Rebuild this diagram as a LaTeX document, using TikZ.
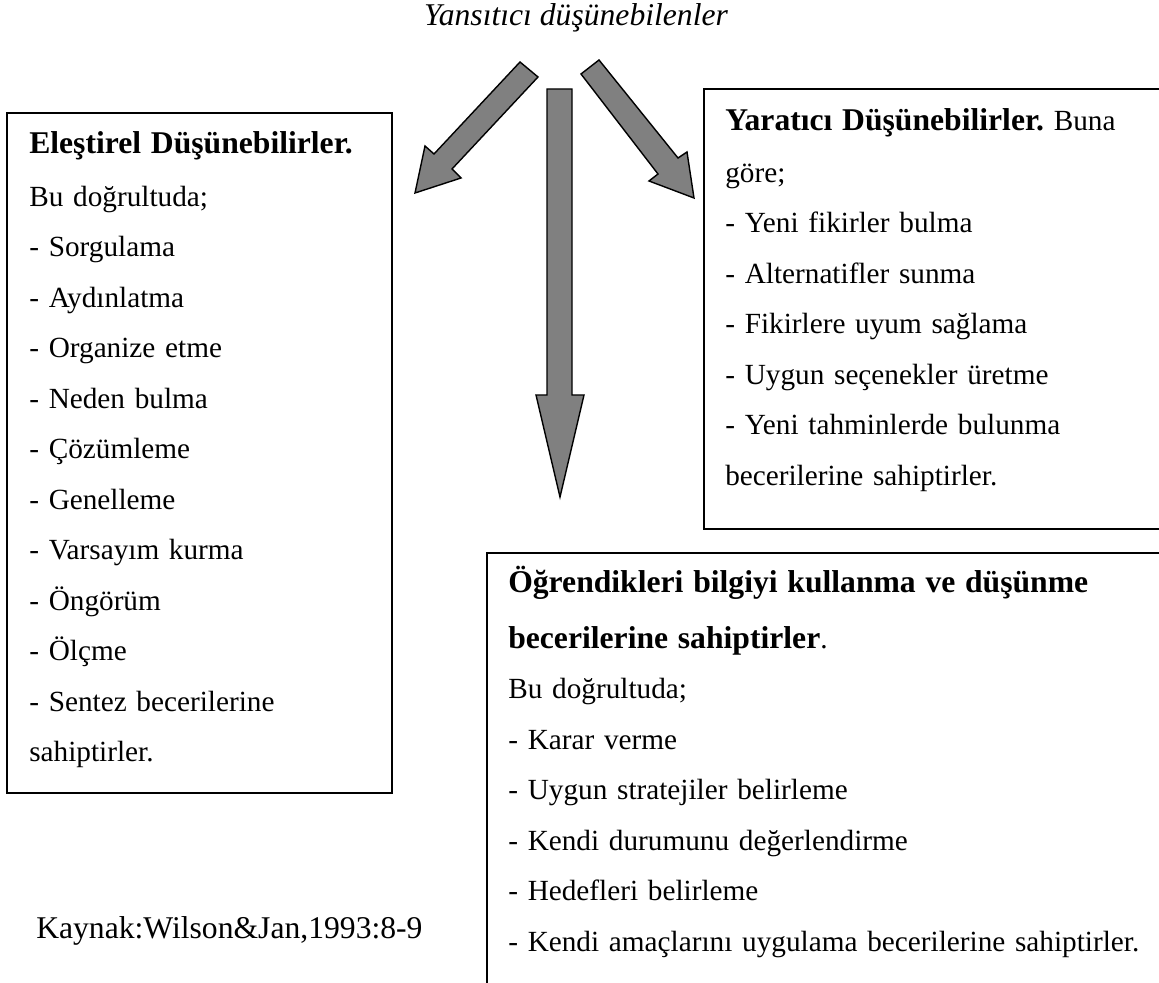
\documentclass[tikz,border=0pt]{standalone}
\usepackage{fontspec}
\setmainfont{Liberation Serif}
\usepackage{tikz}
\usetikzlibrary{positioning}
\frenchspacing
\tikzstyle{box} = [rectangle, draw=black, line width=1.2pt, outer sep=0pt, anchor=north west]
\tikzstyle{txt} = [inner sep=0pt, text width=16.5cm, align=left, font=\fontsize{20.8pt}{35.9pt}\selectfont]
\tikzstyle{big} = [inner sep=0pt, anchor=base, font=\fontsize{22.5pt}{35.9pt}\selectfont]
\tikzstyle{blockarrow} = [draw=black, fill=black!50, line width=1pt]
\newcommand{\tstrut}{\rule{0pt}{0.8cm}}
\newcommand{\hd}[1]{{\fontsize{22.5pt}{35.9pt}\selectfont\textbf{#1}}}
\begin{document}
\begin{tikzpicture}[x=0.025cm, y=-0.025cm]
\useasboundingbox (0,0) rectangle (1159,983);
\clip (0,0) rectangle (1159,983);

\node (title) [big, font=\fontsize{22.5pt}{35.9pt}\selectfont\itshape] at (576,26) {Yansıtıcı düşünebilenler};

% boxes
\node (crit) [box, minimum width=9.625cm, minimum height=17cm] at (7,113) {};
\node (creat) [box, minimum width=12cm, minimum height=11cm] at (704,89) {};
\node (use) [box, minimum width=17.5cm, minimum height=11cm] at (487,553) {};

\node (critText) [txt, below right=0.2cm and 0.55cm of crit.north west] {\tstrut\hd{Eleştirel Düşünebilirler.}\\[1.8pt]
Bu doğrultuda;\\
- Sorgulama\\
- Aydınlatma\\
- Organize etme\\
- Neden bulma\\
- Çözümleme\\
- Genelleme\\
- Varsayım kurma\\
- Öngörüm\\
- Ölçme\\
- Sentez becerilerine\\
sahiptirler.};

\node (creatText) [txt, below right=0.225cm and 0.525cm of creat.north west] {\tstrut\hd{Yaratıcı Düşünebilirler.} Buna\\[1pt]
göre;\\
- Yeni fikirler bulma\\
- Alternatifler sunma\\
- Fikirlere uyum sağlama\\
- Uygun seçenekler üretme\\
- Yeni tahminlerde bulunma\\
becerilerine sahiptirler.};

\node (useText) [txt, below right=0.175cm and 0.525cm of use.north west] {\tstrut\hd{Öğrendikleri bilgiyi kullanma ve düşünme}\\[3.9pt]
\hd{becerilerine sahiptirler}.\\
Bu doğrultuda;\\
- Karar verme\\
- Uygun stratejiler belirleme\\
- Kendi durumunu değerlendirme\\
- Hedefleri belirleme\\
- Kendi amaçlarını uygulama becerilerine sahiptirler.};

\node (src) [big, anchor=base west] at (36,938) {Kaynak:Wilson\&Jan,1993:8-9};

% block arrows
\draw [blockarrow] (520,62) -- (538,77) -- (452,169) -- (461,178) -- (415,193) -- (425,146) -- (434,154) -- cycle;
\draw [blockarrow] (547,89) -- (572,89) -- (572,395) -- (584,395) -- (560,497) -- (536,395) -- (547,395) -- cycle;
\draw [blockarrow] (581,74) -- (599,60) -- (678,158) -- (687,152) -- (694,198) -- (649,181) -- (658,174) -- cycle;

\end{tikzpicture}
\end{document}
